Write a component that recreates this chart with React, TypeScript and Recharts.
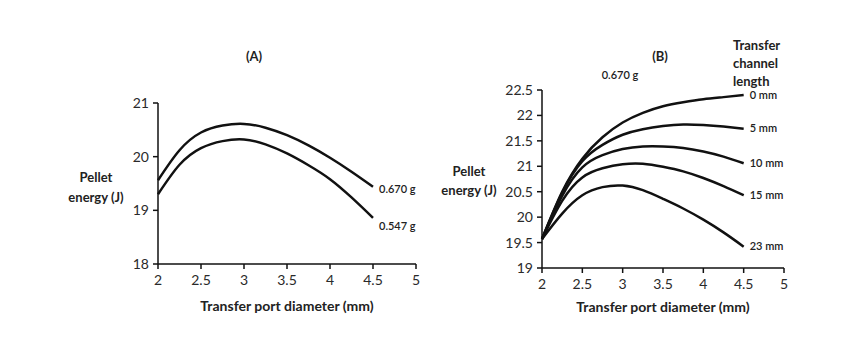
import { LineChart, Line, XAxis, YAxis } from 'recharts';

const diameters = [2, 2.25, 2.5, 2.75, 3, 3.25, 3.5, 3.75, 4, 4.25, 4.5];

// panel A
const massA670 = [19.56, 20.12, 20.45, 20.58, 20.61, 20.54, 20.4, 20.21, 19.98, 19.72, 19.44];
const massA547 = [19.3, 19.85, 20.16, 20.29, 20.32, 20.23, 20.06, 19.84, 19.58, 19.24, 18.86];

// panel B (0.670 g), by transfer channel length
const len0 = [19.57, 20.5, 21.15, 21.57, 21.86, 22.05, 22.18, 22.26, 22.32, 22.36, 22.4];
const len5 = [19.57, 20.48, 21.1, 21.42, 21.62, 21.73, 21.79, 21.82, 21.81, 21.78, 21.74];
const len10 = [19.57, 20.42, 20.98, 21.22, 21.34, 21.39, 21.39, 21.36, 21.29, 21.19, 21.06];
const len15 = [19.57, 20.32, 20.78, 20.96, 21.04, 21.05, 20.99, 20.9, 20.77, 20.61, 20.43];
const len23 = [19.57, 20.07, 20.43, 20.59, 20.62, 20.53, 20.36, 20.17, 19.95, 19.7, 19.42];

const xTicks = [2, 2.5, 3, 3.5, 4, 4.5, 5];
const yTicksA = [18, 19, 20, 21];
const yTicksB = [19, 19.5, 20, 20.5, 21, 21.5, 22, 22.5];

const namesA = ['0.670 g', '0.547 g'];
const namesB = ['0 mm', '5 mm', '10 mm', '15 mm', '23 mm'];

const dataA = diameters.map((d, i) => ({ d, s0: massA670[i], s1: massA547[i] }));
const dataB = diameters.map((d, i) => ({
    d,
    s0: len0[i],
    s1: len5[i],
    s2: len10[i],
    s3: len15[i],
    s4: len23[i],
}));

const FONT = 'Lato, "Open Sans", sans-serif';
const tick = { fill: '#2a2a2a', fontSize: 14, fontFamily: FONT };
const axisLine = { stroke: '#111', strokeWidth: 1.5 };

const endLabel = (name: string, dy: number) => (props: any) => {
    if (props.index !== diameters.length - 1) return null;
    return (
        <text
            x={props.x + 6}
            y={props.y + dy}
            dominantBaseline="middle"
            fontSize={11}
            fontWeight={600}
            fontFamily={FONT}
            fill="#222"
        >
            {name}
        </text>
    );
};

const txt = (extra: React.CSSProperties): React.CSSProperties => ({
    position: 'absolute',
    fontFamily: FONT,
    color: '#222',
    lineHeight: 1,
    whiteSpace: 'nowrap',
    ...extra,
});

export default function App() {
    const offsetsA = [3, 9];
    return (
        <div style={{ position: 'absolute', left: 0, top: 0, width: 850, height: 361, background: '#fff' }}>
            <div style={{ position: 'absolute', left: 0, top: 0 }}>
                <LineChart width={425} height={361} data={dataA} margin={{ top: 103, right: 9, bottom: 67, left: 118 }}>
                    <XAxis
                        type="number"
                        dataKey="d"
                        domain={[2, 5]}
                        ticks={xTicks}
                        tick={tick}
                        axisLine={axisLine}
                        tickLine={axisLine}
                        tickSize={5}
                        tickMargin={6}
                        height={30}
                    />
                    <YAxis
                        domain={[18, 21]}
                        ticks={yTicksA}
                        tick={tick}
                        axisLine={axisLine}
                        tickLine={axisLine}
                        tickSize={5}
                        tickMargin={4}
                        width={40}
                    />
                    {namesA.map((n, i) => (
                        <Line
                            key={n}
                            type="natural"
                            dataKey={`s${i}`}
                            stroke="#111"
                            strokeWidth={2.5}
                            dot={false}
                            isAnimationActive={false}
                            label={endLabel(n, offsetsA[i])}
                        />
                    ))}
                </LineChart>
            </div>
            <div style={{ position: 'absolute', left: 425, top: 0 }}>
                <LineChart width={425} height={361} data={dataB} margin={{ top: 90, right: 66, bottom: 63, left: 77 }}>
                    <XAxis
                        type="number"
                        dataKey="d"
                        domain={[2, 5]}
                        ticks={xTicks}
                        tick={tick}
                        axisLine={axisLine}
                        tickLine={axisLine}
                        tickSize={5}
                        tickMargin={6}
                        height={30}
                    />
                    <YAxis
                        domain={[19, 22.5]}
                        ticks={yTicksB}
                        tick={tick}
                        axisLine={axisLine}
                        tickLine={axisLine}
                        tickSize={5}
                        tickMargin={4}
                        width={40}
                    />
                    {namesB.map((n, i) => (
                        <Line
                            key={n}
                            type="natural"
                            dataKey={`s${i}`}
                            stroke="#111"
                            strokeWidth={2.5}
                            dot={false}
                            isAnimationActive={false}
                            label={endLabel(n, 1)}
                        />
                    ))}
                </LineChart>
            </div>

            <div style={txt({ left: 254, top: 50, transform: 'translateX(-50%)', fontSize: 13, fontWeight: 700 })}>(A)</div>
            <div style={txt({ left: 660, top: 50, transform: 'translateX(-50%)', fontSize: 13, fontWeight: 700 })}>(B)</div>
            <div style={txt({ left: 620, top: 69, transform: 'translateX(-50%)', fontSize: 11, fontWeight: 600 })}>0.670 g</div>
            <div style={txt({ left: 733, top: 36, fontSize: 13, fontWeight: 700, lineHeight: '18px' })}>
                Transfer
                <br />
                channel
                <br />
                length
            </div>

            <div style={txt({ left: 96, top: 167, transform: 'translateX(-50%)', fontSize: 13, fontWeight: 700, textAlign: 'center', lineHeight: '20px' })}>
                Pellet
                <br />
                energy (J)
            </div>
            <div style={txt({ left: 469, top: 162, transform: 'translateX(-50%)', fontSize: 13, fontWeight: 700, textAlign: 'center', lineHeight: '19px' })}>
                Pellet
                <br />
                energy (J)
            </div>

            <div style={txt({ left: 287, top: 299, transform: 'translateX(-50%)', fontSize: 14, fontWeight: 700 })}>
                Transfer port diameter (mm)
            </div>
            <div style={txt({ left: 663, top: 300, transform: 'translateX(-50%)', fontSize: 14, fontWeight: 700 })}>
                Transfer port diameter (mm)
            </div>
        </div>
    );
}
